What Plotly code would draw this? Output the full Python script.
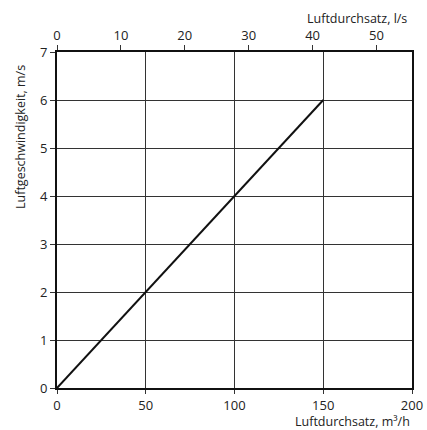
import plotly.graph_objects as go

# Data
flow_m3h = [0, 150]
velocity_ms = [0, 6]
x_ticks = [0, 50, 100, 150, 200]
x2_ticks = [0, 10, 20, 30, 40, 50]
y_ticks = [0, 1, 2, 3, 4, 5, 6, 7]

FONT = "Open Sans"
W, H = 427, 430
L, R, T, B = 57, 15, 52, 42
pw, ph = W - L - R, H - T - B

fig = go.Figure()
fig.add_trace(go.Scatter(x=flow_m3h, y=velocity_ms, mode="lines",
                         line=dict(color="#111", width=2), showlegend=False, hoverinfo="skip"))
# dummy trace for top axis
fig.add_trace(go.Scatter(x=[0, 200 / 3.6], y=[0, 0], xaxis="x2", mode="lines",
                         line=dict(width=0), showlegend=False, hoverinfo="skip", opacity=0))

tf = dict(family=FONT, size=13, color="#222")
af = dict(family=FONT, size=12.5, color="#222")
fig.update_layout(
    width=W, height=H,
    margin=dict(l=L, r=R, t=T, b=B, autoexpand=False),
    paper_bgcolor="white", plot_bgcolor="white",
    font=dict(family=FONT, size=13, color="#222"),
    xaxis=dict(range=[0, 200], tickvals=x_ticks, ticktext=[str(v) for v in x_ticks],
               showgrid=True, gridcolor="#333", gridwidth=1, automargin=False,
               showline=True, linecolor="#111", linewidth=2, mirror=True, tickfont=tf,
               ticks="outside", ticklen=4, tickcolor="#333", zeroline=False),
    xaxis2=dict(range=[0, 200 / 3.6], tickvals=x2_ticks, ticktext=[str(v) for v in x2_ticks],
                overlaying="x", side="top", showgrid=False, automargin=False, tickfont=tf,
                showline=True, linecolor="#111", linewidth=2,
                ticks="outside", ticklen=5, tickcolor="#333", zeroline=False),
    yaxis=dict(range=[0, 7], tickvals=y_ticks, ticktext=[str(v) for v in y_ticks],
               showgrid=True, gridcolor="#333", gridwidth=1, automargin=False, tickfont=tf,
               showline=True, linecolor="#111", linewidth=2, mirror=True,
               ticks="outside", ticklen=5, tickcolor="#333", zeroline=False),
    annotations=[
        dict(text="Luftdurchsatz, l/s", xref="paper", yref="paper",
             x=(409 - L) / pw, y=(H - B - 19) / ph, xanchor="right", yanchor="middle",
             showarrow=False, font=af),
        dict(text="Luftdurchsatz, m³/h", xref="paper", yref="paper",
             x=(412 - L) / pw, y=(H - B - 421) / ph, xanchor="right", yanchor="middle",
             showarrow=False, font=af),
        dict(text="Luftgeschwindigkeit, m/s", xref="paper", yref="paper",
             x=(20 - L) / pw, y=(H - B - 137) / ph, xanchor="center", yanchor="middle",
             textangle=-90, showarrow=False, font=af),
    ],
)

fig.write_html("out.html", config={"displayModeBar": False},
               post_script="document.body.style.margin='0';document.body.style.overflow='hidden';")
